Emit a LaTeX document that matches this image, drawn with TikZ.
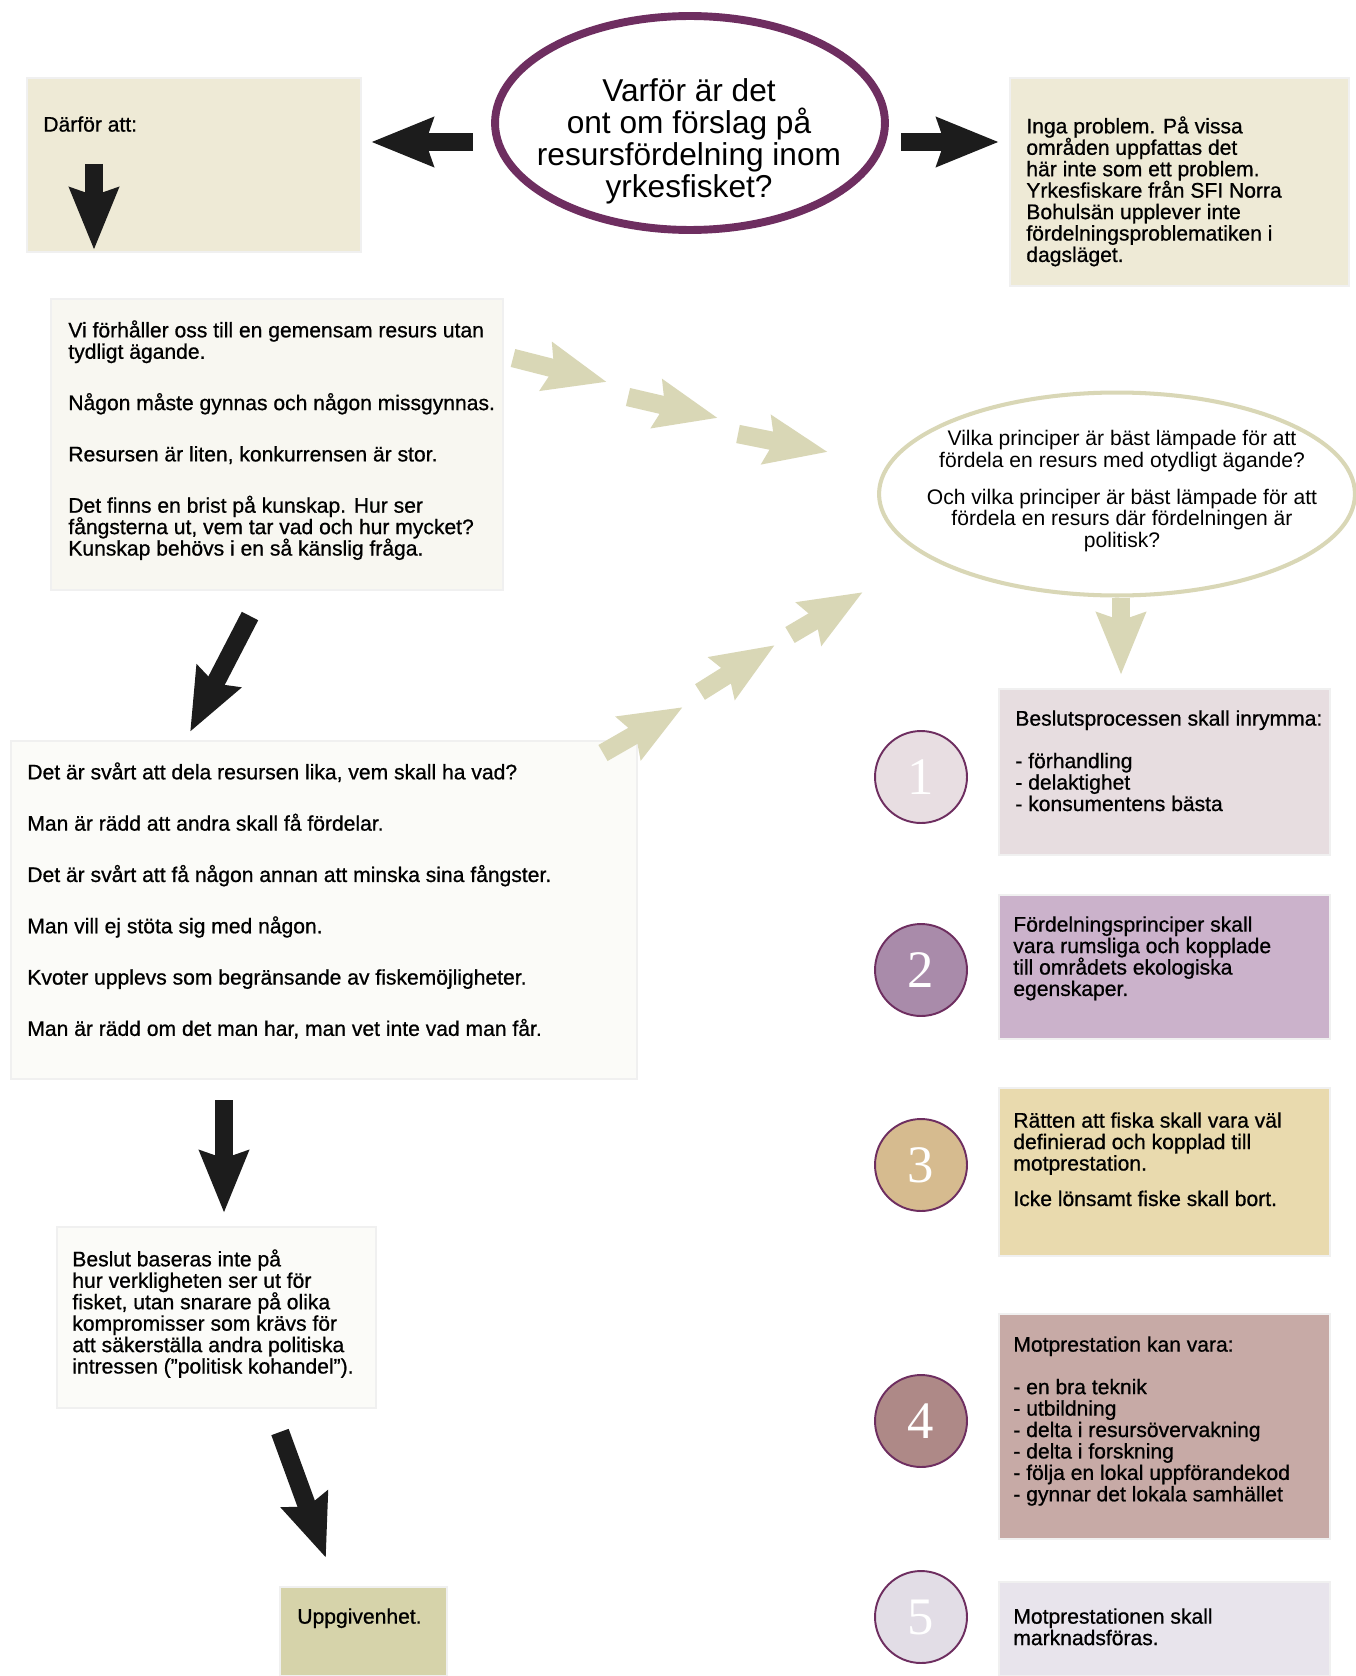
\documentclass[tikz,border=0pt]{standalone}
\usepackage{fontspec}
\setmainfont{Liberation Sans}
\newfontfamily\bodyfont{Liberation Sans}[FakeBold=0.8]
\newfontfamily\numfont{Liberation Serif}
\usepackage{tikz}
\usetikzlibrary{arrows.meta,shapes.geometric,fit}
\definecolor{plum}{HTML}{6E2E60}
\definecolor{arrowblack}{HTML}{1C1C1C}
\definecolor{khaki}{HTML}{D9D7B6}
\definecolor{sand}{HTML}{EEEAD6}
\definecolor{paper}{HTML}{F8F7F1}
\definecolor{paperlight}{HTML}{FBFBF8}
\definecolor{olive}{HTML}{D6D3AA}
\definecolor{rosefill}{HTML}{E7DDE0}
\definecolor{rosecirc}{HTML}{E8DEE2}
\definecolor{lilacfill}{HTML}{CBB2CB}
\definecolor{lilaccirc}{HTML}{A98BAA}
\definecolor{wheatfill}{HTML}{E9DAAE}
\definecolor{wheatcirc}{HTML}{D6BB8F}
\definecolor{mauvefill}{HTML}{C7AAA6}
\definecolor{mauvecirc}{HTML}{AE8987}
\definecolor{mistfill}{HTML}{E8E4EC}
\definecolor{mistcirc}{HTML}{E2DDE6}

\begin{document}
\begin{tikzpicture}[x=0.02cm, y=-0.02cm,
        box/.style={inner sep=0pt, draw=black!6, line width=0.8pt},
        txt/.style={anchor=north west, inner sep=0pt, align=left, font=\bodyfont\fontsize{12}{12.2}\selectfont},
        num/.style={circle, draw=plum, line width=1.1pt, minimum size=1.84cm, inner sep=0pt, text=white, font=\numfont\fontsize{30}{30}\selectfont},
        blackarrow/.style={draw=arrowblack, line width=10.5pt, -{Stealth[length=35pt, width=27pt, inset=4pt]}},
        khakiarrow/.style={draw=khaki, line width=10.5pt, -{Stealth[length=35pt, width=27pt, inset=4pt]}}]
        \useasboundingbox (0, 0) rectangle (1355, 1676);
        \fill[white] (0, 0) rectangle (1355, 1676);
        \node[ellipse, draw=plum, line width=4.5pt, minimum width=7.8cm, minimum height=4.28cm] (question) at (690, 123) {};
        \node[align=center, inner sep=0pt, font=\fontsize{18}{18.2}\selectfont] (questiontext) at (689, 141) {Varför är det\\ont om förslag på\\resursfördelning inom\\yrkesfisket?};
        \node[box, fill=sand, fit={(27, 78) (361, 252)}] (because) {};
        \node[txt] (becausetext) at (43, 116) {Därför att:};
        \node[box, fill=sand, fit={(1010, 78) (1349, 286)}] (noproblem) {};
        \node[txt] (noproblemtext) at (1026, 116) {Inga problem. På vissa\\områden uppfattas det\\här inte som ett problem.\\Yrkesfiskare från SFI Norra\\Bohulsän upplever inte\\fördelningsproblematiken i\\dagsläget.};
        \node[box, fill=paper, fit={(51, 299) (503, 590)}] (resource) {};
        \node[txt] (resourcetext) at (68, 320) {Vi förhåller oss till en gemensam resurs utan\\tydligt ägande.\\[17pt]Någon måste gynnas och någon missgynnas.\\[17pt]Resursen är liten, konkurrensen är stor.\\[17pt]Det finns en brist på kunskap. Hur ser\\fångsterna ut, vem tar vad och hur mycket?\\Kunskap behövs i en så känslig fråga.};
        \node[box, fill=paperlight, fit={(11, 741) (637, 1079)}] (sharing) {};
        \node[txt] (sharingtext) at (27, 762) {Det är svårt att dela resursen lika, vem skall ha vad?\\[17pt]Man är rädd att andra skall få fördelar.\\[17pt]Det är svårt att få någon annan att minska sina fångster.\\[17pt]Man vill ej stöta sig med någon.\\[17pt]Kvoter upplevs som begränsande av fiskemöjligheter.\\[17pt]Man är rädd om det man har, man vet inte vad man får.};
        \node[box, fill=paperlight, fit={(57, 1227) (376, 1408)}] (decision) {};
        \node[txt] (decisiontext) at (72, 1249) {Beslut baseras inte på\\hur verkligheten ser ut för\\fisket, utan snarare på olika\\kompromisser som krävs för\\att säkerställa andra politiska\\intressen (”politisk kohandel”).};
        \node[box, fill=olive, fit={(280, 1587) (447, 1676)}] (resignation) {};
        \node[txt] (resignationtext) at (297, 1608) {Uppgivenhet.};
        \node[ellipse, draw=khaki, line width=2.3pt, fill=white, minimum width=9.52cm, minimum height=4.06cm] (principles) at (1117, 494) {};
        \node[align=center, inner sep=0pt, font=\fontsize{12}{12.2}\selectfont] (principlestext) at (1122, 491) {Vilka principer är bäst lämpade för att\\fördela en resurs med otydligt ägande?\\[9pt]Och vilka principer är bäst lämpade för att\\fördela en resurs där fördelningen är\\politisk?};
        \node[box, fill=rosefill, fit={(999, 689) (1330, 855)}] (rule1) {};
        \node[txt] (rule1text) at (1015, 710) {Beslutsprocessen skall inrymma:\\[12pt]- förhandling\\- delaktighet\\- konsumentens bästa};
        \node[box, fill=lilacfill, fit={(999, 895) (1330, 1039)}] (rule2) {};
        \node[txt] (rule2text) at (1013, 916) {Fördelningsprinciper skall\\vara rumsliga och kopplade\\till områdets ekologiska\\egenskaper.};
        \node[box, fill=wheatfill, fit={(999, 1088) (1330, 1256)}] (rule3) {};
        \node[txt] (rule3text) at (1013, 1112) {Rätten att fiska skall vara väl\\definierad och kopplad till\\motprestation.\\[8pt]Icke lönsamt fiske skall bort.};
        \node[box, fill=mauvefill, fit={(999, 1314) (1330, 1539)}] (rule4) {};
        \node[txt] (rule4text) at (1013, 1336) {Motprestation kan vara:\\[12pt]- en bra teknik\\- utbildning\\- delta i resursövervakning\\- delta i forskning\\- följa en lokal uppförandekod\\- gynnar det lokala samhället};
        \node[box, fill=mistfill, fit={(999, 1582) (1330, 1676)}] (rule5) {};
        \node[txt] (rule5text) at (1013, 1608) {Motprestationen skall\\marknadsföras.};
        \node[num, fill=rosecirc] (n1) at (921, 777) {1};
        \node[num, fill=lilaccirc] (n2) at (921, 970) {2};
        \node[num, fill=wheatcirc] (n3) at (921, 1165) {3};
        \node[num, fill=mauvecirc] (n4) at (921, 1421) {4};
        \node[num, fill=mistcirc] (n5) at (921, 1617) {5};
        \coordinate (a1s) at (94, 164);
        \coordinate (a1e) at (94, 250);
        \coordinate (a2s) at (473, 142);
        \coordinate (a2e) at (371, 142);
        \coordinate (a3s) at (901, 142);
        \coordinate (a3e) at (999, 142);
        \coordinate (a4s) at (250, 616);
        \coordinate (a4e) at (190, 732);
        \coordinate (a5s) at (224, 1100);
        \coordinate (a5e) at (224, 1213);
        \coordinate (a6s) at (280, 1432);
        \coordinate (a6e) at (326, 1558);
        \draw[blackarrow] (a1s) -- (a1e);
        \draw[blackarrow] (a2s) -- (a2e);
        \draw[blackarrow] (a3s) -- (a3e);
        \draw[blackarrow] (a4s) -- (a4e);
        \draw[blackarrow] (a5s) -- (a5e);
        \draw[blackarrow] (a6s) -- (a6e);
        \coordinate (k1s) at (513, 358);
        \coordinate (k1e) at (607, 382);
        \coordinate (k2s) at (628, 397);
        \coordinate (k2e) at (718, 418);
        \coordinate (k3s) at (738, 434);
        \coordinate (k3e) at (828, 452);
        \coordinate (k4s) at (603, 753);
        \coordinate (k4e) at (683, 707);
        \coordinate (k5s) at (700, 692);
        \coordinate (k5e) at (775, 645);
        \coordinate (k6s) at (790, 635);
        \coordinate (k6e) at (863, 592);
        \draw[khakiarrow] (k1s) -- (k1e);
        \draw[khakiarrow] (k2s) -- (k2e);
        \draw[khakiarrow] (k3s) -- (k3e);
        \draw[khakiarrow] (k4s) -- (k4e);
        \draw[khakiarrow] (k5s) -- (k5e);
        \draw[khakiarrow] (k6s) -- (k6e);
        \draw[khakiarrow] (principles.south -| 1121, 588) -- (1121, 675);
    \end{tikzpicture}
\end{document}
